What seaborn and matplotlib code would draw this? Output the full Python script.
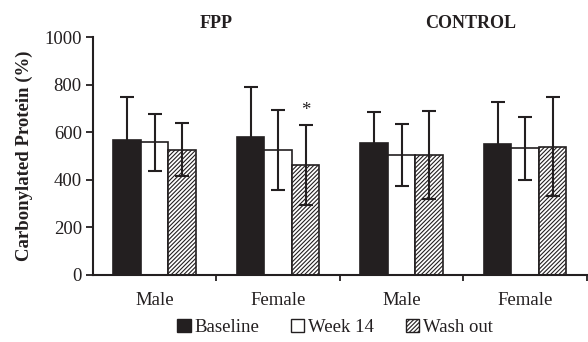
import matplotlib
matplotlib.use("Agg")
import matplotlib.pyplot as plt
from matplotlib.patches import Patch
from matplotlib.transforms import blended_transform_factory
import seaborn as sns
import pandas as pd

# ---- data ----
groups = ["FPP Male", "FPP Female", "CONTROL Male", "CONTROL Female"]
tick_labels = ["Male", "Female", "Male", "Female"]
panel_titles = ["FPP", "CONTROL"]
conditions = ["Baseline", "Week 14", "Wash out"]
baseline = [568, 582, 554, 552]
week14 = [558, 526, 505, 533]
washout = [527, 463, 505, 540]
sd_baseline = [182, 210, 130, 175]
sd_week14 = [119, 170, 131, 133]
sd_washout = [112, 168, 186, 208]
y_ticks = [0, 200, 400, 600, 800, 1000]

means = [baseline, week14, washout]
sds = [sd_baseline, sd_week14, sd_washout]

rows = []
for cond, vals in zip(conditions, means):
    for g, v in zip(groups, vals):
        rows.append({"group": g, "condition": cond, "value": v})
df = pd.DataFrame(rows)

sns.set_style("white")
plt.rcParams["font.family"] = ["Liberation Serif", "DejaVu Serif"]
plt.rcParams["hatch.linewidth"] = 0.8

dark = "#231f20"
fs = 13.5
hatch = "////////"

fig = plt.figure(figsize=(5.88, 3.42), dpi=100)
ax = fig.add_axes([0.158, 0.196, 0.840, 0.695])

sns.barplot(data=df, x="group", y="value", hue="condition", order=groups,
            hue_order=conditions, palette=[dark, "white", "white"],
            width=0.67, errorbar=None, edgecolor=dark, linewidth=1.2,
            saturation=1, legend=False, ax=ax)

bar_containers = list(ax.containers)
for i, cont in enumerate(bar_containers):
    xs = []
    for p in cont.patches:
        p.set_edgecolor(dark)
        if i == 2:
            p.set_hatch(hatch)
        xs.append(p.get_x() + p.get_width() / 2)
    ax.errorbar(xs, means[i], yerr=sds[i], fmt="none", ecolor=dark,
                elinewidth=1.5, capsize=5, capthick=1.5, zorder=3)
    if i == 2:
        ax.text(xs[1], means[i][1] + sds[i][1] + 25, "*", ha="center",
                va="bottom", fontsize=fs, color=dark)

ax.set_xlim(-0.5, 3.5)
ax.set_ylim(0, 1000)
ax.set_yticks(y_ticks)
ax.set_xticks([0.5, 1.5, 2.5, 3.5])
ax.set_xticklabels([])
ax.set_xticks([0, 1, 2, 3], minor=True)
ax.set_xticklabels(tick_labels, minor=True)
ax.tick_params(axis="x", which="minor", length=0, pad=12, labelsize=fs,
               colors=dark)
ax.tick_params(axis="x", which="major", length=4, width=1.3, color=dark,
               direction="out", bottom=True)
ax.tick_params(axis="y", length=5, width=1.3, color=dark, direction="out",
               left=True, labelsize=fs, labelcolor=dark, pad=3)
ax.set_xlabel("")
ax.set_ylabel("Carbonylated Protein (%)", fontsize=fs, fontweight="bold",
              color=dark, labelpad=8)

for s in ["top", "right"]:
    ax.spines[s].set_visible(False)
for s in ["left", "bottom"]:
    ax.spines[s].set_color(dark)
    ax.spines[s].set_linewidth(1.5)

trans = blended_transform_factory(ax.transData, ax.transAxes)
ax.text(0.5, 1.06, panel_titles[0], transform=trans, ha="center",
        va="center", fontsize=13, fontweight="bold", color=dark)
ax.text(2.56, 1.06, panel_titles[1], transform=trans, ha="center",
        va="center", fontsize=13, fontweight="bold", color=dark)

handles = [Patch(facecolor=dark, edgecolor=dark, linewidth=1.0),
           Patch(facecolor="white", edgecolor=dark, linewidth=1.0),
           Patch(facecolor="white", edgecolor=dark, linewidth=1.0,
                 hatch=hatch)]
ax.legend(handles, conditions, loc="center", bbox_to_anchor=(0.49, -0.22),
          ncol=3, frameon=False, fontsize=fs, handlelength=0.7,
          handleheight=0.7, handletextpad=0.2, columnspacing=1.7,
          labelcolor=dark)

fig.savefig("out.png", dpi=100)
